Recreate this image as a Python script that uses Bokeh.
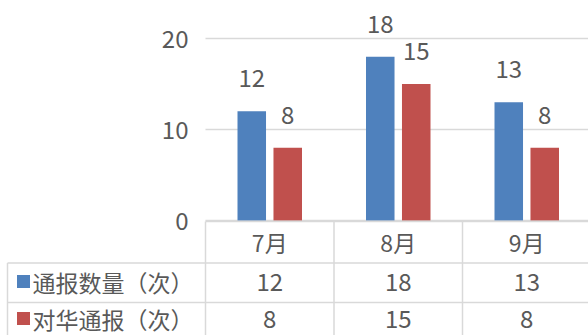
from bokeh.plotting import figure
from bokeh.models import Range1d, ColumnDataSource
from bokeh.transform import dodge
from bokeh.embed import file_html
from bokeh.resources import INLINE
from bokeh.core.properties import value

# ---- data ----
months = ["7月", "8月", "9月"]
series_names = ["通报数量（次）", "对华通报（次）"]
total_reports = [12, 18, 13]
china_reports = [8, 15, 8]
y_ticks = [0, 10, 20]
series_colors = ["#4F81BD", "#C0504D"]

# ---- style / layout ----
FONT = "Noto Sans CJK SC"
TEXT = "#595959"
GRID = "#D9D9D9"
FS_NUM = "24px"
FS_CJK = "23px"

W, H = 588, 335
LEFT = 205          # px where plot area starts
ZERO_PX = 220       # px (from top) of value 0
PX_PER_UNIT = 9.1   # px per value unit
CAT_W = 128.5       # px per category
BAR_W = 0.222
OFF = 0.14


def px_to_x(px):
    return (px - LEFT) / CAT_W


def px_to_y(py):
    return (ZERO_PX - py) / PX_PER_UNIT


x_start, x_end = px_to_x(0), px_to_x(W)
xs = [i + 0.5 for i in range(len(months))]
src = ColumnDataSource(dict(
    x=xs, months=months,
    s1=total_reports, s2=china_reports,
    t1=[str(v) for v in total_reports], t2=[str(v) for v in china_reports],
))

p = figure(width=W, height=H, output_backend="svg", toolbar_location=None,
           x_range=Range1d(x_start, x_end),
           y_range=Range1d(px_to_y(H), px_to_y(0)),
           x_axis_location=None, y_axis_location=None,
           min_border_left=0, min_border_right=0,
           min_border_top=0, min_border_bottom=0)
p.outline_line_color = None
p.grid.visible = False
p.background_fill_color = "white"
p.border_fill_color = "white"

# gridlines + value-axis labels
p.segment(x0=[0] * len(y_ticks), y0=y_ticks, x1=[x_end] * len(y_ticks), y1=y_ticks,
          line_color=GRID, line_width=1.5)
p.text(x=[0] * len(y_ticks), y=y_ticks, text=[str(t) for t in y_ticks],
       x_offset=-17, text_align="right", text_baseline="middle",
       text_font=value(FONT), text_font_size=FS_NUM, text_color=TEXT)

# bars
p.vbar(x=dodge("x", -OFF, range=p.x_range), top="s1", width=BAR_W, bottom=0,
       source=src, fill_color=series_colors[0], line_color=None)
p.vbar(x=dodge("x", OFF, range=p.x_range), top="s2", width=BAR_W, bottom=0,
       source=src, fill_color=series_colors[1], line_color=None)

for col, tcol, off in (("s1", "t1", -OFF), ("s2", "t2", OFF)):
    p.text(x=dodge("x", off, range=p.x_range), y=col, text=tcol, source=src,
           y_offset=-33, text_align="center", text_baseline="middle",
           text_font=value(FONT), text_font_size=FS_NUM, text_color=TEXT)

# ---- data table ----
n = len(months)
row_tops = [px_to_y(221), px_to_y(262.5), px_to_y(302)]
text_centers = [px_to_y(241.5), px_to_y(281), px_to_y(318)]
bottom = px_to_y(H)
left_edge = px_to_x(7)

p.segment(x0=[0, left_edge, left_edge], y0=row_tops,
          x1=[x_end] * 3, y1=row_tops, line_color=GRID, line_width=1.5)
vx = list(range(n + 1))
p.segment(x0=vx, y0=[row_tops[0]] * len(vx), x1=vx, y1=[bottom] * len(vx),
          line_color=GRID, line_width=1.5)
p.segment(x0=[left_edge], y0=[row_tops[1]], x1=[left_edge], y1=[bottom],
          line_color=GRID, line_width=1.5)

p.text(x="x", y=text_centers[0], text="months", source=src,
       text_align="center", text_baseline="middle",
       text_font=value(FONT), text_font_size=FS_CJK, text_color=TEXT)
for r, (tcol, name, color) in enumerate(zip(("t1", "t2"), series_names, series_colors)):
    yc = text_centers[r + 1]
    p.text(x="x", y=yc, text=tcol, source=src,
           text_align="center", text_baseline="middle",
           text_font=value(FONT), text_font_size=FS_NUM, text_color=TEXT)
    p.scatter(x=[px_to_x(23)], y=[yc], marker="square", size=13,
              fill_color=color, line_color=None)
    p.text(x=[px_to_x(32)], y=[yc], text=[name],
           text_align="left", text_baseline="middle",
           text_font=value(FONT), text_font_size=FS_CJK, text_color=TEXT)

open("out.html", "w").write(file_html(p, INLINE))
